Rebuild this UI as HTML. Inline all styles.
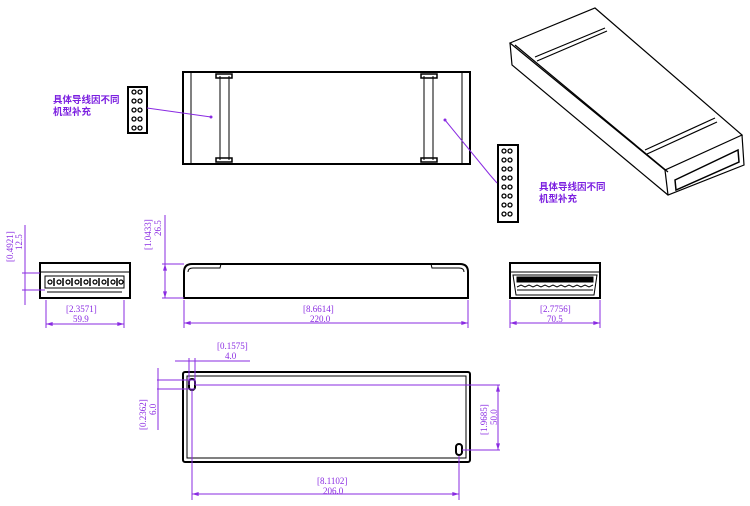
<!DOCTYPE html>
<html><head><meta charset="utf-8"><style>
html,body{margin:0;padding:0;background:#fff;}
svg{display:block;}
.d{font-family:"Liberation Serif","Noto Serif CJK SC",serif;font-size:9px;fill:#8a2be2;}
.c{font-family:"Liberation Sans","Noto Sans CJK SC",sans-serif;font-size:9.5px;font-weight:bold;fill:#7b1fe0;}
</style></head><body>
<svg width="750" height="506" viewBox="0 0 750 506" xmlns="http://www.w3.org/2000/svg">
<defs>
<marker id="a" viewBox="0 0 10 6" refX="10" refY="3" markerWidth="8" markerHeight="4" orient="auto-start-reverse"><path d="M0,0L10,3L0,6z" fill="#8a2be2"/></marker>
</defs>
<g fill="none" stroke="#000">
<!-- top view -->
<rect x="183" y="72" width="287" height="92" stroke-width="2"/>
<line x1="191" y1="73" x2="191" y2="163"/>
<line x1="462" y1="73" x2="462" y2="163"/>
<line x1="220" y1="76" x2="220" y2="160"/><line x1="229" y1="76" x2="229" y2="160"/>
<line x1="424" y1="76" x2="424" y2="160"/><line x1="433" y1="76" x2="433" y2="160"/>
<rect x="216" y="74" width="16" height="4" stroke-width="1.5"/><rect x="216" y="158" width="16" height="4" stroke-width="1.5"/>
<rect x="421" y="74" width="16" height="4" stroke-width="1.5"/><rect x="421" y="158" width="16" height="4" stroke-width="1.5"/>
<!-- left connector -->
<rect x="128" y="87" width="19" height="46" stroke-width="2"/>
<g stroke-width="1.3">
<circle cx="134" cy="92" r="2"/><circle cx="140" cy="92" r="2"/>
<circle cx="134" cy="101" r="2"/><circle cx="140" cy="101" r="2"/>
<circle cx="134" cy="110" r="2"/><circle cx="140" cy="110" r="2"/>
<circle cx="134" cy="119" r="2"/><circle cx="140" cy="119" r="2"/>
<circle cx="134" cy="128" r="2"/><circle cx="140" cy="128" r="2"/>
</g>
<!-- right connector -->
<rect x="498" y="145" width="20" height="77" stroke-width="2"/>
<g stroke-width="1.3">
<circle cx="504" cy="151" r="2"/><circle cx="510" cy="151" r="2"/>
<circle cx="504" cy="160" r="2"/><circle cx="510" cy="160" r="2"/>
<circle cx="504" cy="169" r="2"/><circle cx="510" cy="169" r="2"/>
<circle cx="504" cy="178" r="2"/><circle cx="510" cy="178" r="2"/>
<circle cx="504" cy="187" r="2"/><circle cx="510" cy="187" r="2"/>
<circle cx="504" cy="196" r="2"/><circle cx="510" cy="196" r="2"/>
<circle cx="504" cy="205" r="2"/><circle cx="510" cy="205" r="2"/>
<circle cx="504" cy="214" r="2"/><circle cx="510" cy="214" r="2"/>
</g>
<!-- isometric -->
<g stroke-width="1.2">
<polygon points="510,43 595,8 742,135 665,170"/>
<polyline points="510,43 512,65 668,195 744,165 742,135"/>
<line x1="665" y1="170" x2="668" y2="195"/>
<line x1="515" y1="45" x2="668" y2="172"/>
<line x1="535" y1="57" x2="605" y2="28"/><line x1="537" y1="61" x2="607" y2="31"/>
<line x1="645" y1="150" x2="715" y2="118"/><line x1="647" y1="154" x2="717" y2="122"/>
<polygon points="675,180 738,150 739,162 676,190" stroke-width="1.5"/>
</g>
<!-- front view left -->
<rect x="40" y="263" width="90" height="35" stroke-width="2"/>
<line x1="40" y1="272" x2="130" y2="272"/>
<rect x="45" y="276" width="79" height="12"/>
<g stroke-width="1.2">
<circle cx="50" cy="282" r="2"/><circle cx="59" cy="282" r="2"/><circle cx="68" cy="282" r="2"/><circle cx="77" cy="282" r="2"/><circle cx="86" cy="282" r="2"/><circle cx="95" cy="282" r="2"/><circle cx="104" cy="282" r="2"/><circle cx="113" cy="282" r="2"/><circle cx="121" cy="282" r="2"/>
</g>
<g stroke-width="1.5">
<line x1="54" y1="278" x2="54" y2="286"/><line x1="63" y1="278" x2="63" y2="286"/><line x1="72" y1="278" x2="72" y2="286"/><line x1="81" y1="278" x2="81" y2="286"/><line x1="90" y1="278" x2="90" y2="286"/><line x1="99" y1="278" x2="99" y2="286"/><line x1="108" y1="278" x2="108" y2="286"/><line x1="117" y1="278" x2="117" y2="286"/>
</g>
<line x1="47" y1="292" x2="122" y2="292"/>
<!-- side view -->
<path d="M184,298 L184,272 Q184,264 192,264 L460,264 Q468,264 468,272 L468,298 Z" stroke-width="2"/>
<path d="M188,272 Q188,268 193,268 L220,268 L221,264"/>
<path d="M464,272 Q464,268 459,268 L432,268 L431,264"/>
<!-- right end view -->
<rect x="510" y="263" width="90" height="35" stroke-width="2"/>
<line x1="510" y1="272" x2="600" y2="272"/>
<polygon points="513,275 597,275 594,295 516,295"/>
<rect x="517" y="277" width="76" height="5" fill="#000"/>
<path d="M517,287 l4,-2 l4,2 l4,-2 l4,2 l4,-2 l4,2 l4,-2 l4,2 l4,-2 l4,2 l4,-2 l4,2 l4,-2 l4,2 l4,-2 l4,2 l4,-2 l4,2 l4,-2"/>
<line x1="517" y1="290" x2="593" y2="290"/>
<!-- bottom view -->
<rect x="183" y="372" width="287" height="90" rx="2" stroke-width="2"/>
<rect x="187" y="376" width="279" height="82"/>
<rect x="189" y="379" width="6" height="11" rx="3" stroke-width="2"/>
<rect x="456" y="444" width="6" height="11" rx="3" stroke-width="2"/>
</g>
<!-- dimensions -->
<g stroke="#8a2be2" stroke-width="1" fill="none">
<line x1="147" y1="108" x2="211" y2="117"/>
<polyline points="445,120 490,175 497,183"/>
<line x1="25" y1="225" x2="25" y2="305"/>
<line x1="22" y1="273" x2="40" y2="273"/><line x1="22" y1="290" x2="45" y2="290"/>
<line x1="46" y1="300" x2="46" y2="328"/><line x1="124" y1="300" x2="124" y2="328"/>
<line x1="46" y1="324" x2="124" y2="324" marker-start="url(#a)" marker-end="url(#a)"/>
<line x1="165" y1="215" x2="165" y2="298"/>
<line x1="162" y1="264" x2="184" y2="264"/><line x1="162" y1="298" x2="184" y2="298"/>
<line x1="165" y1="268" x2="165" y2="264" marker-end="url(#a)"/>
<line x1="165" y1="294" x2="165" y2="298" marker-end="url(#a)"/>
<line x1="184" y1="300" x2="184" y2="328"/><line x1="468" y1="300" x2="468" y2="328"/>
<line x1="184" y1="323" x2="468" y2="323" marker-start="url(#a)" marker-end="url(#a)"/>
<line x1="510" y1="300" x2="510" y2="328"/><line x1="600" y1="300" x2="600" y2="328"/>
<line x1="510" y1="323" x2="600" y2="323" marker-start="url(#a)" marker-end="url(#a)"/>
<line x1="175" y1="361" x2="250" y2="361"/>
<line x1="189" y1="358" x2="189" y2="385"/><line x1="195" y1="358" x2="195" y2="385"/>
<line x1="157" y1="380" x2="195" y2="380"/><line x1="157" y1="389" x2="195" y2="389"/>
<line x1="158" y1="368" x2="158" y2="430"/>
<line x1="195" y1="385" x2="500" y2="385"/><line x1="462" y1="450" x2="500" y2="450"/>
<line x1="498" y1="385" x2="498" y2="450" marker-start="url(#a)" marker-end="url(#a)"/>
<line x1="192" y1="390" x2="192" y2="500"/><line x1="459" y1="456" x2="459" y2="500"/>
<line x1="192" y1="494" x2="459" y2="494" marker-start="url(#a)" marker-end="url(#a)"/>
</g>
<circle cx="211" cy="117" r="1.5" fill="#8a2be2"/>
<circle cx="445" cy="120" r="1.5" fill="#8a2be2"/>
<text class="c" x="53" y="103">具体导线因不同</text>
<text class="c" x="53" y="115">机型补充</text>
<text class="c" x="539" y="190">具体导线因不同</text>
<text class="c" x="539" y="202">机型补充</text>
<text class="d" transform="translate(13,262) rotate(-90)">[0.4921]</text>
<text class="d" transform="translate(22,250) rotate(-90)">12.5</text>
<text class="d" x="66" y="312">[2.3571]</text>
<text class="d" x="73" y="322">59.9</text>
<text class="d" transform="translate(151,250) rotate(-90)">[1.0433]</text>
<text class="d" transform="translate(161,236) rotate(-90)">26.5</text>
<text class="d" x="303" y="312">[8.6614]</text>
<text class="d" x="310" y="322">220.0</text>
<text class="d" x="540" y="312">[2.7756]</text>
<text class="d" x="547" y="322">70.5</text>
<text class="d" x="217" y="349">[0.1575]</text>
<text class="d" x="225" y="359">4.0</text>
<text class="d" transform="translate(146,430) rotate(-90)">[0.2362]</text>
<text class="d" transform="translate(156,415) rotate(-90)">6.0</text>
<text class="d" transform="translate(487,435) rotate(-90)">[1.9685]</text>
<text class="d" transform="translate(497,425) rotate(-90)">50.0</text>
<text class="d" x="317" y="484">[8.1102]</text>
<text class="d" x="323" y="494">206.0</text>
</svg>
</body></html>
